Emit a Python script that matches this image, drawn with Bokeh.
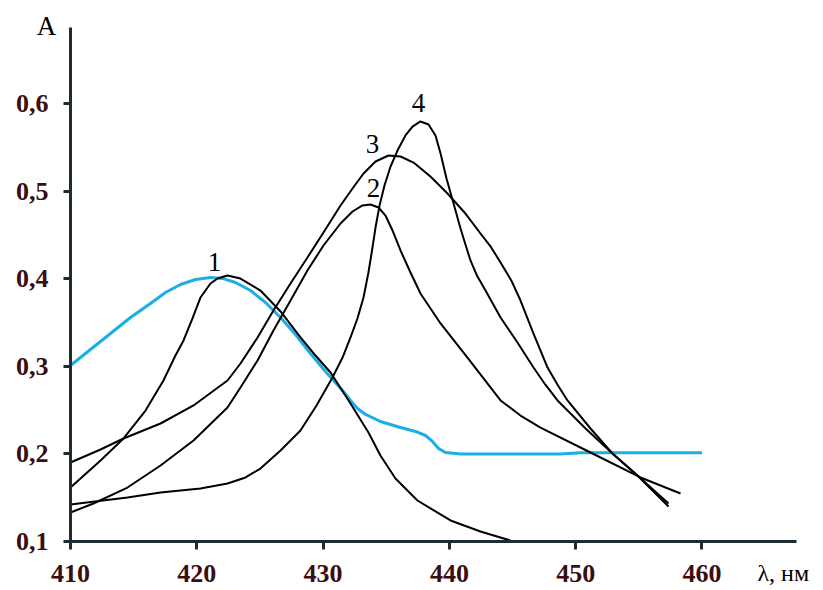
from bokeh.plotting import figure
from bokeh.models import FixedTicker, Label, Range1d
from bokeh.embed import file_html
from bokeh.resources import INLINE

# ---- data ----
blue_x = [410.00, 411.58, 413.17, 414.75, 416.33, 417.52, 418.71, 419.90, 421.08, 422.03, 423.06, 424.25,
          425.44, 426.63, 427.81, 429.00, 430.19, 431.54, 432.17, 432.72, 433.36, 434.54, 436.13, 437.32,
          438.11, 438.66, 439.14, 439.69, 440.88, 448.80, 450.38, 460.00]
blue_y = [0.3009, 0.3192, 0.3374, 0.3557, 0.3717, 0.3842, 0.3934, 0.3991, 0.4014, 0.4003, 0.3957, 0.3865,
          0.3728, 0.3557, 0.3363, 0.3146, 0.2941, 0.2724, 0.2610, 0.2518, 0.2450, 0.2370, 0.2301, 0.2256,
          0.2210, 0.2142, 0.2062, 0.2016, 0.2000, 0.2000, 0.2012, 0.2012]

c1_x = [410.00, 412.38, 414.20, 415.94, 417.36, 418.31, 418.95, 419.66, 420.29, 421.08, 421.64, 422.43,
        423.46, 425.04, 426.63, 428.21, 429.40, 430.59, 432.17, 433.59, 434.54, 435.73, 437.47, 440.09,
        442.46, 444.84]
c1_y = [0.1616, 0.1925, 0.2176, 0.2495, 0.2838, 0.3123, 0.3295, 0.3546, 0.3785, 0.3945, 0.4002, 0.4037,
        0.4002, 0.3865, 0.3626, 0.3329, 0.3123, 0.2929, 0.2575, 0.2244, 0.1982, 0.1719, 0.1468, 0.1240,
        0.1114, 0.1011]

c2_x = [410.00, 411.82, 414.51, 417.13, 419.74, 422.43, 423.46, 424.81, 426.07, 427.42, 428.76, 430.03,
        431.38, 432.33, 433.12, 433.75, 434.39, 434.94, 435.50, 436.13, 436.92, 437.71, 439.30, 441.43,
        444.05, 445.63, 447.21, 451.17, 455.13, 458.30]
c2_y = [0.1331, 0.1434, 0.1616, 0.1868, 0.2153, 0.2530, 0.2758, 0.3066, 0.3409, 0.3751, 0.4094, 0.4379,
        0.4630, 0.4767, 0.4836, 0.4847, 0.4813, 0.4721, 0.4550, 0.4322, 0.4071, 0.3831, 0.3489, 0.3100,
        0.2610, 0.2438, 0.2301, 0.2016, 0.1731, 0.1548]

c3_x = [410.00, 412.38, 414.20, 417.13, 419.74, 422.43, 423.46, 424.81, 426.07, 427.42, 428.76, 430.03,
        431.38, 432.33, 433.20, 434.15, 435.18, 436.13, 437.16, 438.50, 439.85, 441.27, 442.46, 443.30,
        444.05, 444.90, 445.63, 446.66, 447.77, 448.60, 449.35, 451.17, 452.91, 454.89, 457.35]
c3_y = [0.1902, 0.2050, 0.2176, 0.2347, 0.2553, 0.2838, 0.3032, 0.3329, 0.3637, 0.3945, 0.4242, 0.4527,
        0.4836, 0.5030, 0.5201, 0.5338, 0.5406, 0.5395, 0.5326, 0.5167, 0.4973, 0.4744, 0.4516, 0.4360,
        0.4185, 0.3980, 0.3751, 0.3374, 0.2986, 0.2780, 0.2610, 0.2290, 0.2005, 0.1753, 0.1434]

c4_x = [410.00, 414.51, 417.13, 420.29, 422.43, 423.86, 425.04, 426.63, 428.21, 429.48, 430.74, 431.54,
        432.17, 432.72, 433.20, 433.59, 433.91, 434.15, 434.47, 434.86, 435.34, 435.89, 436.52, 437.08,
        437.71, 438.35, 438.90, 439.30, 439.77, 440.33, 440.88, 441.27, 441.67, 442.20, 442.86, 444.05,
        445.39, 446.66, 447.60, 448.56, 450.78, 452.91, 454.89, 457.35]
c4_y = [0.1422, 0.1502, 0.1559, 0.1605, 0.1662, 0.1731, 0.1833, 0.2039, 0.2267, 0.2553, 0.2872, 0.3100,
        0.3329, 0.3546, 0.3785, 0.4071, 0.4356, 0.4584, 0.4836, 0.5064, 0.5281, 0.5463, 0.5635, 0.5737,
        0.5795, 0.5760, 0.5635, 0.5429, 0.5144, 0.4858, 0.4573, 0.4390, 0.4208, 0.4030, 0.3865, 0.3557,
        0.3272, 0.2986, 0.2790, 0.2610, 0.2290, 0.2005, 0.1753, 0.1400]

curve_labels = ["1", "2", "3", "4"]
label_x = [421.40, 433.99, 433.91, 437.55]
label_y = [0.4185, 0.5030, 0.5532, 0.6000]

x_ticks = [410, 420, 430, 440, 450, 460]
y_ticks = [0.1, 0.2, 0.3, 0.4, 0.5, 0.6]
y_tick_labels = ["0,1", "0,2", "0,3", "0,4", "0,5", "0,6"]
y_title = "A"
x_title = "λ, нм"

AXIS_COLOR = "#1c2c30"
TICK_TEXT = "#3a0e0e"
SERIF = "Liberation Serif"

p = figure(width=823, height=590, output_backend="svg", toolbar_location=None,
           x_range=Range1d(404.458, 469.62), y_range=Range1d(0.04406, 0.71758),
           min_border=0, min_border_left=0, min_border_right=0, min_border_top=0, min_border_bottom=0)
p.outline_line_color = None
p.grid.visible = False
p.background_fill_color = "white"
p.border_fill_color = "white"

p.xaxis.fixed_location = 0.1
p.yaxis.fixed_location = 410
p.xaxis.bounds = (410, 467.48)
p.yaxis.bounds = (0.1, 0.6868)

for ax in (p.xaxis, p.yaxis):
    ax.axis_line_color = AXIS_COLOR
    ax.axis_line_width = 3
    ax.major_tick_line_color = AXIS_COLOR
    ax.major_tick_line_width = 3
    ax.major_tick_in = 0
    ax.minor_tick_line_color = None
    ax.major_label_text_font = SERIF
    ax.major_label_text_font_style = "bold"
    ax.major_label_text_font_size = "26px"
    ax.major_label_text_color = TICK_TEXT

p.xaxis.major_tick_out = 8
p.yaxis.major_tick_out = 7
p.xaxis.ticker = FixedTicker(ticks=x_ticks)
p.yaxis.ticker = FixedTicker(ticks=y_ticks)
p.yaxis.major_label_overrides = {t: l for t, l in zip(y_ticks, y_tick_labels)}
p.xaxis.major_label_standoff = 16
p.yaxis.major_label_standoff = 15

p.line(blue_x, blue_y, line_color="#1aaee6", line_width=3, line_join="round")
for xs, ys in ((c1_x, c1_y), (c2_x, c2_y), (c3_x, c3_y), (c4_x, c4_y)):
    p.line(xs, ys, line_color="black", line_width=2, line_join="round")

for t, lx, ly in zip(curve_labels, label_x, label_y):
    p.add_layout(Label(x=lx, y=ly, text=t, text_font=SERIF, text_font_size="27px",
                       text_align="center", text_baseline="middle", text_color="black"))

p.add_layout(Label(x=408.10, y=0.6890, text=y_title, text_font=SERIF, text_font_size="27px",
                   text_align="center", text_baseline="middle", text_color="black"))
p.add_layout(Label(x=464.39, y=0.0635, text=x_title, text_font=SERIF, text_font_size="24px",
                   text_align="left", text_baseline="middle", text_color="black"))

open("out.html", "w").write(file_html(p, INLINE))
